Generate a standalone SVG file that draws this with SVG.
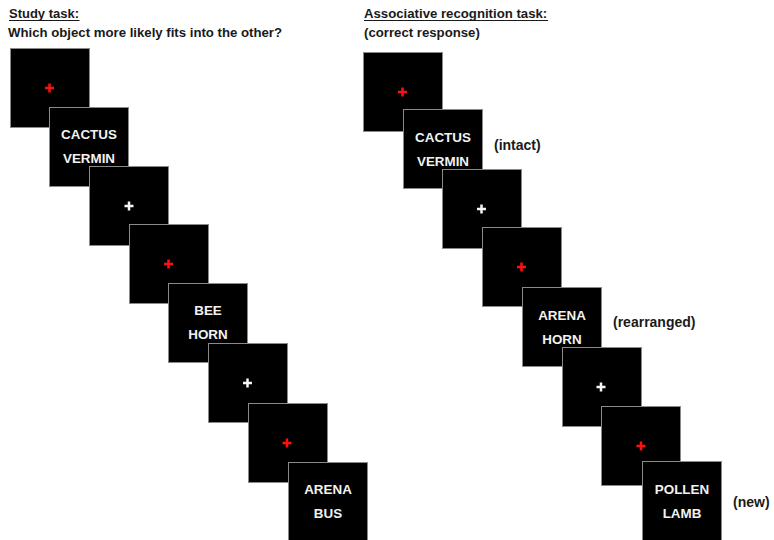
<svg xmlns="http://www.w3.org/2000/svg" width="774" height="540" viewBox="0 0 774 540">
<style>
.hd{font-family:"Liberation Sans",Arial,sans-serif;font-weight:bold;font-size:13.2px;fill:#1a1a1a}
.lb{font-family:"Liberation Sans",Arial,sans-serif;font-weight:bold;font-size:14px;fill:#1a1a1a}
.bx{fill:#000;stroke:#8a8a8a;stroke-width:1}
.wd{font-family:"Liberation Sans",Arial,sans-serif;font-weight:bold;font-size:13.4px;fill:#f2f2f2;text-anchor:middle}
.cr{stroke:#ff1010;stroke-width:2.5;fill:none}
.cw{stroke:#f5f5f5;stroke-width:2.5;fill:none}
.ul{stroke:#1a1a1a;stroke-width:1.2}
</style>
<defs>
<path id="plus" d="M-4.5 0H4.5M0 -4.5V4.5"/>
</defs>
<rect width="774" height="540" fill="#fff"/>
<g id="titles">
<text class="hd" x="9" y="18" textLength="70" lengthAdjust="spacingAndGlyphs">Study task:</text>
<line class="ul" x1="9" y1="20.5" x2="79.5" y2="20.5"/>
<text class="hd" x="8" y="37">Which object more likely fits into the other?</text>
<text class="hd" x="364" y="18">Associative recognition task:</text>
<line class="ul" x1="364" y1="20.5" x2="548" y2="20.5"/>
<text class="hd" x="364" y="37">(correct response)</text>
</g>
<g id="study">
<g id="s1"><rect class="bx" x="10.5" y="48.5" width="79" height="79"/><use href="#plus" class="cr" x="49.5" y="88"/></g>
<g id="s2"><rect class="bx" x="49.5" y="107.5" width="79" height="79"/><text class="wd" x="89" y="139">CACTUS</text><text class="wd" x="89" y="163">VERMIN</text></g>
<g id="s3"><rect class="bx" x="89.5" y="166.5" width="79" height="79"/><use href="#plus" class="cw" x="129" y="206"/></g>
<g id="s4"><rect class="bx" x="129.5" y="224.5" width="79" height="79"/><use href="#plus" class="cr" x="168.5" y="264"/></g>
<g id="s5"><rect class="bx" x="168.5" y="283.5" width="79" height="79"/><text class="wd" x="208" y="315">BEE</text><text class="wd" x="208" y="339">HORN</text></g>
<g id="s6"><rect class="bx" x="208.5" y="343.5" width="79" height="79"/><use href="#plus" class="cw" x="247.5" y="383"/></g>
<g id="s7"><rect class="bx" x="248.5" y="403.5" width="79" height="79"/><use href="#plus" class="cr" x="287" y="443"/></g>
<g id="s8"><rect class="bx" x="288.5" y="462.5" width="79" height="79"/><text class="wd" x="328" y="494">ARENA</text><text class="wd" x="328" y="518">BUS</text></g>
</g>
<g id="recognition">
<g id="r1"><rect class="bx" x="363.5" y="52.5" width="79" height="79"/><use href="#plus" class="cr" x="402.5" y="92"/></g>
<g id="r2"><rect class="bx" x="403.5" y="109.5" width="79" height="79"/><text class="wd" x="443" y="141.5">CACTUS</text><text class="wd" x="443" y="165.5">VERMIN</text></g>
<g id="r3"><rect class="bx" x="442.5" y="169.5" width="79" height="79"/><use href="#plus" class="cw" x="481.5" y="209"/></g>
<g id="r4"><rect class="bx" x="482.5" y="227.5" width="79" height="79"/><use href="#plus" class="cr" x="521.5" y="267"/></g>
<g id="r5"><rect class="bx" x="522.5" y="287.5" width="79" height="79"/><text class="wd" x="562" y="319.5">ARENA</text><text class="wd" x="562" y="343.5">HORN</text></g>
<g id="r6"><rect class="bx" x="562.5" y="347.5" width="79" height="79"/><use href="#plus" class="cw" x="601" y="387"/></g>
<g id="r7"><rect class="bx" x="601.5" y="406.5" width="79" height="79"/><use href="#plus" class="cr" x="641" y="446"/></g>
<g id="r8"><rect class="bx" x="642.5" y="461.5" width="79" height="79"/><text class="wd" x="682" y="493.5">POLLEN</text><text class="wd" x="682" y="517.5">LAMB</text></g>
</g>
<g id="labels">
<text class="lb" x="494" y="150">(intact)</text>
<text class="lb" x="613" y="327">(rearranged)</text>
<text class="lb" x="733" y="507">(new)</text>
</g>
</svg>
